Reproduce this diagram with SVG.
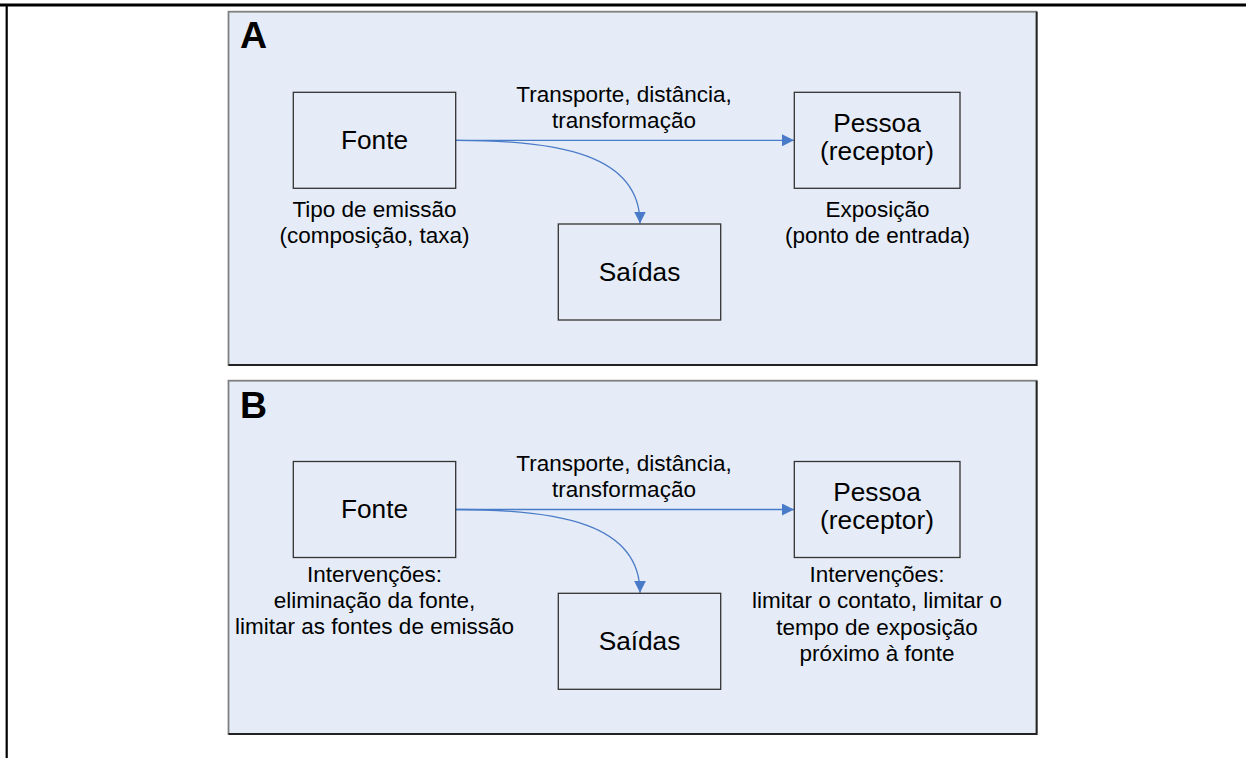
<svg xmlns="http://www.w3.org/2000/svg" width="1246" height="758" viewBox="0 0 1246 758">
<defs>
<style>
.panel{fill:#E5ECF7;stroke:#808080;stroke-width:1.8}
.shadow{stroke:#222;stroke-width:1.8;fill:none}
.box{fill:none;stroke:#333;stroke-width:1.3}
.conn{fill:none;stroke:#4A7BC8;stroke-width:1.3}
text{font-family:"Liberation Sans",Arial,sans-serif;fill:#000;text-anchor:middle}
.n{font-size:26.25px}
.l{font-size:22.5px}
.big{font-size:37.5px;font-weight:bold;text-anchor:start}
</style>
<marker id="arr" viewBox="0 0 12 12" refX="12" refY="6" markerWidth="12" markerHeight="12" markerUnits="userSpaceOnUse" orient="auto">
<path d="M0,0 L12,6 L0,12 Z" fill="#4A7BC8"/>
</marker>
</defs>
<rect width="1246" height="758" fill="#fff"/>
<line x1="0" y1="5" x2="1246" y2="5" stroke="#000" stroke-width="2.8"/>
<line x1="6.7" y1="5" x2="6.7" y2="758" stroke="#000" stroke-width="2.2"/>

<g id="panelA">
<rect class="panel" x="228.5" y="11.7" width="808" height="353.3"/>
<polyline class="shadow" points="1036.7,11.7 1036.7,365 228.5,365"/>
<text class="big" x="240" y="48">A</text>
</g>
<g id="panelB">
<rect class="panel" x="228.5" y="380.7" width="808" height="353.3"/>
<polyline class="shadow" points="1036.7,380.7 1036.7,734 228.5,734"/>
<text class="big" x="240" y="418">B</text>
</g>

<g id="connectors">
<line class="conn" x1="456" y1="140.3" x2="794" y2="140.3" marker-end="url(#arr)"/>
<path class="conn" d="M456,140.3 C560,140.3 640,155 640,223.5" marker-end="url(#arr)"/>
<line class="conn" x1="456" y1="509.5" x2="794" y2="509.5" marker-end="url(#arr)"/>
<path class="conn" d="M456,509.5 C560,509.5 640,524 640,592.8" marker-end="url(#arr)"/>
</g>

<g id="labelA">
<text class="l" x="624" y="101.5">Transporte, distância,</text>
<text class="l" x="624" y="127.5">transformação</text>
</g>
<g id="fonteA">
<rect class="box" x="293.3" y="92.3" width="162.4" height="96"/>
<text class="n" x="374.5" y="149">Fonte</text>
<text class="l" x="374.5" y="216.7">Tipo de emissão</text>
<text class="l" x="374.5" y="242.8">(composição, taxa)</text>
</g>
<g id="pessoaA">
<rect class="box" x="794.3" y="92.3" width="165.7" height="96"/>
<text class="n" x="877" y="132.3">Pessoa</text>
<text class="n" x="877" y="159.5">(receptor)</text>
<text class="l" x="877.5" y="216.7">Exposição</text>
<text class="l" x="877.5" y="242.8">(ponto de entrada)</text>
</g>
<g id="saidasA">
<rect class="box" x="558.3" y="224" width="162.4" height="96"/>
<text class="n" x="639.5" y="281">Saídas</text>
</g>

<g id="labelB">
<text class="l" x="624" y="470.5">Transporte, distância,</text>
<text class="l" x="624" y="496.5">transformação</text>
</g>
<g id="fonteB">
<rect class="box" x="293.3" y="461.5" width="162.4" height="96"/>
<text class="n" x="374.5" y="518">Fonte</text>
<text class="l" x="374.5" y="581.7">Intervenções:</text>
<text class="l" x="374.5" y="608">eliminação da fonte,</text>
<text class="l" x="374.5" y="634.3">limitar as fontes de emissão</text>
</g>
<g id="pessoaB">
<rect class="box" x="794.3" y="461.5" width="165.7" height="96"/>
<text class="n" x="877" y="501.3">Pessoa</text>
<text class="n" x="877" y="528.5">(receptor)</text>
<text class="l" x="877" y="581.7">Intervenções:</text>
<text class="l" x="877" y="608.2">limitar o contato, limitar o</text>
<text class="l" x="877" y="634.8">tempo de exposição</text>
<text class="l" x="877" y="661.4">próximo à fonte</text>
</g>
<g id="saidasB">
<rect class="box" x="558.3" y="593.3" width="162.4" height="96"/>
<text class="n" x="639.5" y="650">Saídas</text>
</g>
</svg>
